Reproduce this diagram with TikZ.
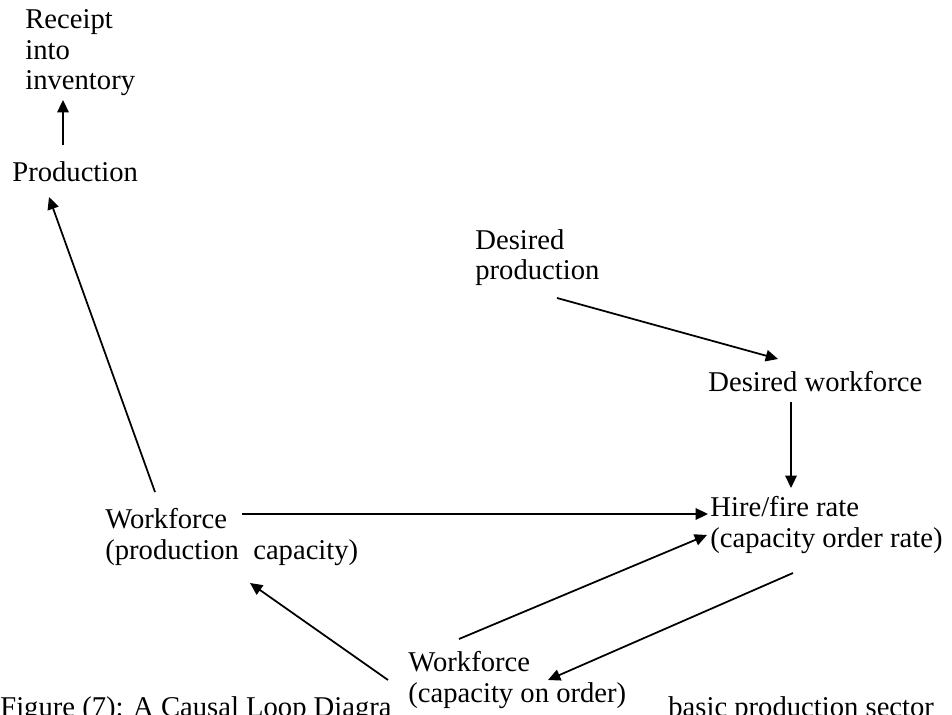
\documentclass[tikz,border=0pt]{standalone}
\usepackage{fontspec}
\setmainfont{Liberation Serif}
\usepackage{tikz}
\usetikzlibrary{calc, positioning, arrows.meta}
\tikzstyle{var} = [anchor=base west, inner sep=0pt, align=left, font=\fontsize{16.3}{17.5}\selectfont]
\tikzstyle{arrow} = [line width=1pt,-{Triangle[length=7pt,width=6.5pt]}]

\begin{document}
\begin{tikzpicture}[x=0.02cm, y=-0.02cm]
	\useasboundingbox (0,0) rectangle (952,715);
	% variables (base = last line)
	\node (Receipt) [var] at (25,90) {Receipt\\into\\inventory};
	\node (Production) [var] at (12,182) {Production};
	\node (DesProd) [var] at (475,280) {Desired\\production};
	\node (DesWork) [var] at (708,392) {Desired workforce};
	\node (WorkCap) [var] at (105,559) {Workforce\\(production\ \ capacity)};
	\node (HireFire) [var] at (710,547) {Hire/fire rate\\(capacity order rate)};
	\node (WorkOrder) [var] at (408,702) {Workforce\\(capacity on order)};
	% caption
	\node (CaptionA) [var] at (0,716) {Figure (7): A Causal Loop Diagra};
	\node (CaptionB) [var] at (668,716) {basic production sector};
	% links
	\draw [arrow] ($(Production.base west)+(51,-37)$) -- ($(Receipt.base west)+(38,10)$);
	\draw [arrow] ($(WorkCap.base west)+(50,-67)$) -- ($(Production.base west)+(37,15)$);
	\draw [arrow] ($(WorkCap.base west)+(137,-45)$) -- ($(HireFire.base west)+(-2,-33)$);
	\draw [arrow] ($(DesProd.base west)+(82,18)$) -- ($(DesWork.base west)+(70,-33)$);
	\draw [arrow] ($(DesWork.base west)+(83,10)$) -- ($(HireFire.base west)+(81,-59)$);
	\draw [arrow] ($(WorkOrder.base west)+(51,-63)$) -- ($(HireFire.base west)+(-3,-12)$);
	\draw [arrow] ($(HireFire.base west)+(83,26)$) -- ($(WorkOrder.base west)+(140,-22)$);
	\draw [arrow] ($(WorkOrder.base west)+(-20,-22)$) -- ($(WorkCap.base west)+(145,24)$);
\end{tikzpicture}
\end{document}
